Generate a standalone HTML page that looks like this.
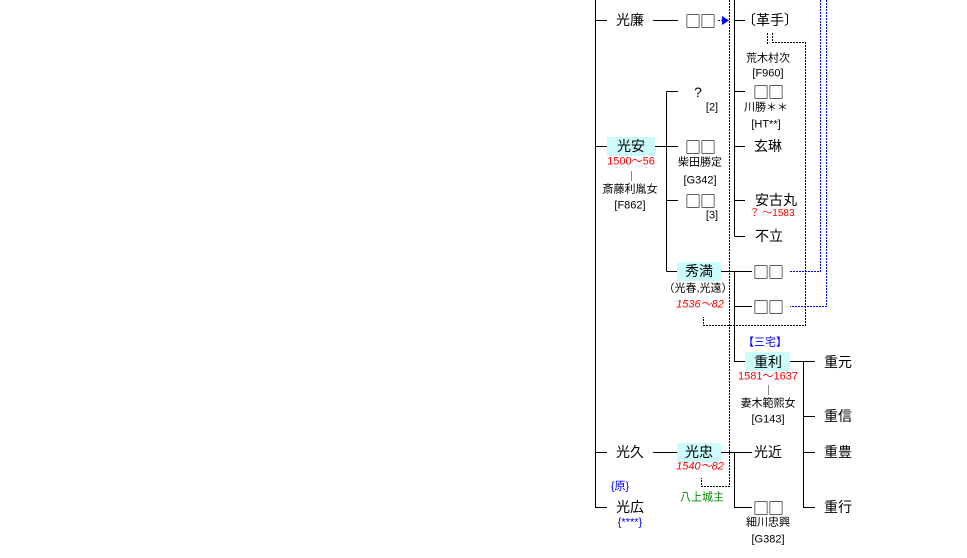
<!DOCTYPE html>
<html><head><meta charset="utf-8"><style>
body{margin:0;width:967px;height:558px;background:#fff;position:relative;overflow:hidden;font-family:"Liberation Sans","Noto Sans CJK JP",sans-serif;color:#000}
.t{position:absolute;transform:translate(-50%,-50%);white-space:nowrap;font-size:14px;line-height:1}
.s{font-size:11px}
.r{color:#f00}
.i{font-style:italic}
.b{color:#00f}
.g{color:#080}
.q{font-family:"Noto Sans CJK JP",sans-serif;font-size:16px;letter-spacing:-1px}
.box{position:absolute;background:#ccfbfb}
svg{position:absolute;left:0;top:0}
</style></head><body>
<div class="box" style="left:607px;top:137px;width:48px;height:19px"></div>
<div class="box" style="left:677px;top:262px;width:44px;height:19px"></div>
<div class="box" style="left:745px;top:352px;width:45px;height:19px"></div>
<div class="box" style="left:677px;top:443px;width:44px;height:19px"></div>
<svg width="967" height="558">
<g stroke="#000" stroke-width="1" fill="none">
<path d="M595.5 0V507.5H607M595.5 20.5H607M595.5 146.5H607M595.5 452.5H607"/>
<path d="M653 20.5H678M655 146.5H678M666.5 91.5V271.5M666.5 91.5H678M666.5 200.5H678M666.5 271.5H677"/>
<path d="M734.5 0V236.5M734.5 20.5H745M734.5 91.5H745M734.5 146.5H745M734.5 200.5H745M734.5 236.5H745"/>
<path d="M721 271.5H752M734.5 271.5V361.5H745M734.5 306.5H752"/>
<path d="M653 452.5H677M721 452.5H752M734.5 452.5V507.5H752"/>
<path d="M790 361.5H815M803.5 361.5V507.5H815M803.5 416.5H815M803.5 452.5H815"/>
</g>
<g stroke="#000" stroke-width="1" fill="none" stroke-dasharray="2,1">
<path d="M729.5 0V486.5H701.5V478"/>
<path d="M767.5 33V45M772.5 33V42.5H805.5V325.5H703.5V317"/>
</g>
<g stroke="#888"><path d="M631.5 171V181M768.5 385V395"/></g>
<g stroke="#00f" stroke-width="1" fill="none" stroke-dasharray="2,1">
<path d="M820.5 0V271.5H790M826.5 0V306.5H790"/>
<path d="M718 20.5H724"/>
</g>
<path d="M722 16L729 20.5L722 25Z" fill="#00f"/>
</svg>
<div class="t" style="left:630px;top:20px">光廉</div>
<div class="t q" style="left:700px;top:20px">□□</div>
<div class="t" style="left:770px;top:20px">〔革手〕</div>
<div class="t s" style="left:768px;top:59px">荒木村次</div>
<div class="t s" style="left:768px;top:74px">[F960]</div>
<div class="t" style="left:698px;top:92px">?</div>
<div class="t s" style="left:712px;top:108px">[2]</div>
<div class="t q" style="left:768px;top:91px">□□</div>
<div class="t s" style="left:766px;top:108px">川勝＊＊</div>
<div class="t s" style="left:766px;top:125px">[HT**]</div>
<div class="t" style="left:631px;top:146px">光安</div>
<div class="t s r" style="left:631px;top:162px">1500～56</div>
<div class="t s" style="left:630px;top:190px">斎藤利胤女</div>
<div class="t s" style="left:630px;top:206px">[F862]</div>
<div class="t q" style="left:700px;top:146px">□□</div>
<div class="t s" style="left:700px;top:163px">柴田勝定</div>
<div class="t s" style="left:700px;top:181px">[G342]</div>
<div class="t" style="left:768px;top:146px">玄琳</div>
<div class="t q" style="left:700px;top:200px">□□</div>
<div class="t s" style="left:712px;top:216px">[3]</div>
<div class="t" style="left:776px;top:200px">安古丸</div>
<div class="t s r" style="left:772px;top:214px;font-size:10px">？ ～1583</div>
<div class="t" style="left:769px;top:236px">不立</div>
<div class="t" style="left:699px;top:271px">秀満</div>
<div class="t s" style="left:698px;top:289px">（光春,光遠）</div>
<div class="t s r i" style="left:700px;top:305px">1536～82</div>
<div class="t q" style="left:768px;top:271px">□□</div>
<div class="t q" style="left:768px;top:306px">□□</div>
<div class="t s b" style="left:765px;top:343px">【三宅】</div>
<div class="t" style="left:768px;top:362px">重利</div>
<div class="t s r" style="left:768px;top:377px">1581～1637</div>
<div class="t s" style="left:768px;top:404px">妻木範熙女</div>
<div class="t s" style="left:768px;top:420px">[G143]</div>
<div class="t" style="left:838px;top:362px">重元</div>
<div class="t" style="left:838px;top:416px">重信</div>
<div class="t" style="left:838px;top:452px">重豊</div>
<div class="t" style="left:838px;top:507px">重行</div>
<div class="t" style="left:630px;top:452px">光久</div>
<div class="t" style="left:699px;top:452px">光忠</div>
<div class="t s r i" style="left:700px;top:467px">1540～82</div>
<div class="t s g" style="left:702px;top:498px">八上城主</div>
<div class="t" style="left:768px;top:452px">光近</div>
<div class="t q" style="left:768px;top:507px">□□</div>
<div class="t s" style="left:768px;top:523px">細川忠興</div>
<div class="t s" style="left:768px;top:540px">[G382]</div>
<div class="t s b" style="left:620px;top:487px">{原}</div>
<div class="t" style="left:630px;top:507px">光広</div>
<div class="t s b" style="left:630px;top:523px">{****}</div>
</body></html>
